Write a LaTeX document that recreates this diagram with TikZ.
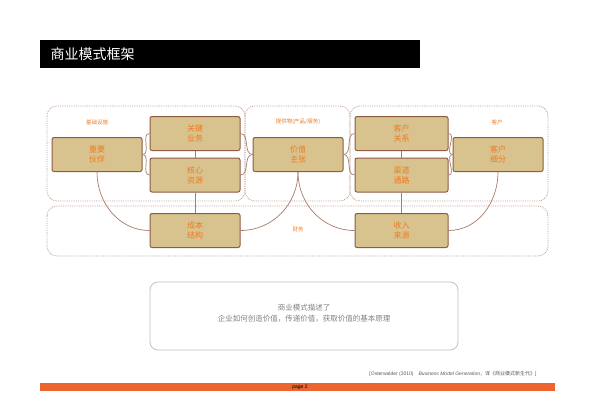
\documentclass[tikz,border=0pt]{standalone}
\usepackage{fontspec}
\setmainfont{Liberation Sans}
\newfontfamily\cjk{Noto Sans CJK SC}
\usetikzlibrary{positioning}
\definecolor{boxfill}{HTML}{D8C38E}
\definecolor{boxline}{HTML}{8E5B44}
\definecolor{txtorange}{HTML}{EE7A22}
\definecolor{barorange}{HTML}{EC6430}
\tikzset{
  block/.style={rectangle, rounded corners=2pt, fill=boxfill, draw=boxline, line width=1pt,
    minimum width=90pt, minimum height=34pt, align=center, text=txtorange,
    font={\cjk\fontsize{8}{10}\selectfont}},
  area/.style={draw=boxline!60, densely dotted, line width=0.8pt, rounded corners=10pt},
  areaLabel/.style={text=txtorange, font={\cjk\fontsize{5.5}{6}\selectfont}},
  link/.style={draw=boxline!80, line width=0.7pt}
}
\begin{document}
\begin{tikzpicture}[x=1pt,y=-1pt]
  \useasboundingbox (0,0) rectangle (600,400);

  % title bar
  \fill[black] (40,40) rectangle (420,68);
  \node[anchor=west, text=white, font={\cjk\fontsize{14}{16}\selectfont}] (title) at (47,54) {商业模式框架};

  % areas
  \draw[area] (47,106) rectangle (245,201);
  \draw[area] (245,106) rectangle (350,201);
  \draw[area] (350,106) rectangle (548,201);
  \draw[area] (47,206) rectangle (548,256);
  \node[areaLabel] (infra) at (97,122) {基础设施};
  \node[areaLabel] (offer) at (298,122) {提供物(产品/服务)};
  \node[areaLabel] (cust) at (497,122) {客户};
  \node[areaLabel] (fin) at (298,229) {财务};

  % blocks
  \node[block] (partner) at (97,154.5) {重要\\伙伴};
  \node[block] (activity) at (195,133.5) {关键\\业务};
  \node[block] (resource) at (195,175) {核心\\资源};
  \node[block] (value) at (298,154.5) {价值\\主张};
  \node[block, minimum width=93pt] (relation) at (401.5,133.5) {客户\\关系};
  \node[block, minimum width=93pt] (channel) at (401.5,175) {渠道\\通路};
  \node[block] (segment) at (498,154.5) {客户\\细分};
  \node[block] (cost) at (195,230.5) {成本\\结构};
  \node[block, minimum width=93pt] (revenue) at (401.5,230.5) {收入\\来源};

  % connectors
  \draw[link] (activity) -- (resource);
  \draw[link] (resource) -- (cost);
  \draw[link] (relation) -- (channel);
  \draw[link] (channel) -- (revenue);
  \draw[link] (partner.east) to[out=0,in=180] (activity.west);
  \draw[link] (partner.east) to[out=0,in=180] (resource.west);
  \draw[link] (activity.east) to[out=0,in=180] (value.west);
  \draw[link] (resource.east) to[out=0,in=180] (value.west);
  \draw[link] (value.east) to[out=0,in=180] (relation.west);
  \draw[link] (value.east) to[out=0,in=180] (channel.west);
  \draw[link] (relation.east) to[out=0,in=180] (segment.west);
  \draw[link] (channel.east) to[out=0,in=180] (segment.west);
  \draw[link] (partner.south) to[out=-90,in=180] (cost.west);
  \draw[link] (value.south) to[out=-90,in=0] (cost.east);
  \draw[link] (value.south) to[out=-90,in=180] (revenue.west);
  \draw[link] (segment.south) to[out=-90,in=0] (revenue.east);

  % summary box
  \draw[gray!50, rounded corners=8pt, line width=0.8pt] (150,282) rectangle (458,350);
  \node[align=center, text=gray, font={\cjk\fontsize{7.5}{11}\selectfont}] (summary) at (304,313)
    {商业模式描述了\\企业如何创造价值，传递价值，获取价值的基本原理};

  % footer
  \node[anchor=east, font={\fontsize{5}{6}\selectfont}, text=gray!70!black] (cite) at (540,374)
    {[Osterwalder (2010)\quad\textit{Business Model Generation}{\cjk ，译《商业模式新生代》}]};
  \fill[barorange] (40,383) rectangle (555,391);
  \node[font={\fontsize{5}{6}\selectfont}] (page) at (300,387) {page 2};
\end{tikzpicture}
\end{document}
